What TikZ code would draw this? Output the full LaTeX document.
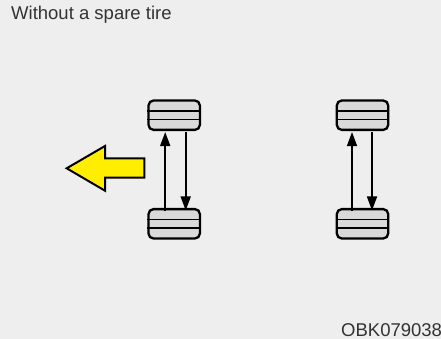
\documentclass[tikz,border=0pt]{standalone}
\usepackage{fontspec}
\setmainfont{Liberation Sans}
\usetikzlibrary{arrows.meta}
\definecolor{bggray}{HTML}{EEEEEE}
\definecolor{tiregray}{HTML}{D9D9D9}
\definecolor{textgray}{HTML}{333333}
\definecolor{arrowyellow}{HTML}{FFEE00}
\tikzset{
  tire/.style={draw=black, line width=2.3pt, fill=tiregray, rounded corners=5pt,
    minimum width=51.4pt, minimum height=29.4pt, inner sep=0pt},
  swap/.style={line width=1.7pt, -{Triangle[length=14pt,width=10pt]}},
  label/.style={text=textgray, font=\fontsize{18.5}{22}\selectfont, inner sep=0pt}
}
\begin{document}
\begin{tikzpicture}[x=1pt,y=-1pt]
\fill[bggray] (0,0) rectangle (441,339);
\useasboundingbox (0,0) rectangle (441,339);

\node[label, anchor=base west] (title) at (11,20) {Without a spare tire};
\node[label, anchor=base west] (code) at (341,336) {OBK079038};

% tires, left pair
\node[tire] (fl) at (174.2,115.2) {};
\node[tire] (rl) at (174.2,223.8) {};
% tires, right pair
\node[tire] (fr) at (362.5,115.2) {};
\node[tire] (rr) at (362.5,223.8) {};

\foreach \t in {fl,rl,fr,rr} {
  \draw[line width=1.4pt] ([yshift=-4.3pt]\t.west) -- ([yshift=-4.3pt]\t.east);
  \draw[line width=1.4pt] ([yshift=4.3pt]\t.west) -- ([yshift=4.3pt]\t.east);
}

\draw[swap] ([xshift=-9pt,yshift=-3.5pt]rl.north) -- ([xshift=-9pt,yshift=-1pt]fl.south);
\draw[swap] ([xshift=11.5pt,yshift=-1pt]fl.south) -- ([xshift=11.5pt,yshift=-2.5pt]rl.north);
\draw[swap] ([xshift=-10.5pt,yshift=-3.5pt]rr.north) -- ([xshift=-10.5pt,yshift=-1pt]fr.south);
\draw[swap] ([xshift=9.5pt,yshift=-1pt]fr.south) -- ([xshift=9.5pt,yshift=-2.5pt]rr.north);

% direction of travel
\draw[line width=2pt, fill=arrowyellow, line join=miter]
  (66.7,168.3) -- (105,146) -- (105,158.3) -- (144.3,158.3)
  -- (144.3,177.7) -- (105,177.7) -- (105,190.7) -- cycle;
\end{tikzpicture}
\end{document}
